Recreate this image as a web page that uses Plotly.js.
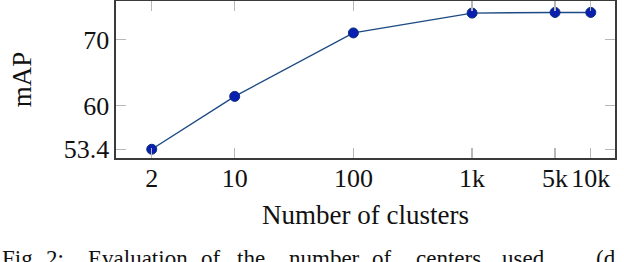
<!DOCTYPE html>
<html>
<head>
<meta charset="utf-8">
<script src="https://cdn.plot.ly/plotly-3.0.1.min.js"></script>
<style>html,body{margin:0;padding:0;background:#fff;}#chart{width:624px;height:262px;}</style>
</head>
<body>
<div id="chart"></div>
<script>
const clusters = [2, 10, 100, 1000, 5000, 10000];
const mAP = [53.4, 61.4, 71.0, 74.0, 74.1, 74.1];
const xTickVals = [2, 10, 100, 1000, 5000, 10000];
const xTickText = ["2", "10", "100", "1k", "5k", "10k"];
const yTickVals = [53.4, 60, 70];
const yTickText = ["53.4", "60", "70"];
const captionWords = ["Fig.", "2:", "Evaluation", "of", "the", "number", "of", "centers", "used", "(d"];
const captionWordPx = [0, 44, 86, 199, 235, 287, 370, 414, 500, 594];

const serif = "'Liberation Serif', 'Times New Roman', serif";
const plotLeft = 116, plotWidth = 624 - 116 - 9;

const trace = {
  x: clusters, y: mAP, type: "scatter", mode: "lines+markers",
  line: {color: "#1b4a85", width: 1.4},
  marker: {color: "#0a1fb0", size: 10, line: {color: "#0b2f7a", width: 1}},
  hoverinfo: "none"
};

const axisCommon = {
  showgrid: false, zeroline: false,
  showline: true, mirror: "ticks", linecolor: "#3a3a3a", linewidth: 1.6,
  ticks: "inside", ticklen: 10, tickwidth: 1.2, tickcolor: "#b8b8b8",
  tickfont: {family: serif, size: 26, color: "#111"}
};

const annotations = captionWords.map((w, i) => ({
  xref: "paper", yref: "paper",
  x: (captionWordPx[i] - plotLeft) / plotWidth, y: -0.545,
  xanchor: "left", yanchor: "top", showarrow: false,
  text: w, font: {family: serif, size: 23, color: "#111"}
}));

const layout = {
  width: 624, height: 262,
  margin: {l: 116, r: 9, t: 1, b: 104, pad: 0},
  paper_bgcolor: "#fff", plot_bgcolor: "#fff",
  showlegend: false,
  xaxis: Object.assign({}, axisCommon, {
    type: "log", range: [0, 4.204],
    tickmode: "array", tickvals: xTickVals, ticktext: xTickText,
    ticklabelstandoff: -4,
    title: {text: "Number of clusters", font: {family: serif, size: 27, color: "#111"}, standoff: 13}
  }),
  yaxis: Object.assign({}, axisCommon, {
    range: [52.08, 75.83],
    tickmode: "array", tickvals: yTickVals, ticktext: yTickText,
    ticklabelstandoff: 0,
    title: {text: "mAP", font: {family: serif, size: 27, color: "#111"}, standoff: 24}
  }),
  annotations: annotations
};

Plotly.newPlot("chart", [trace], layout, {staticPlot: true, displayModeBar: false});
</script>
</body>
</html>
